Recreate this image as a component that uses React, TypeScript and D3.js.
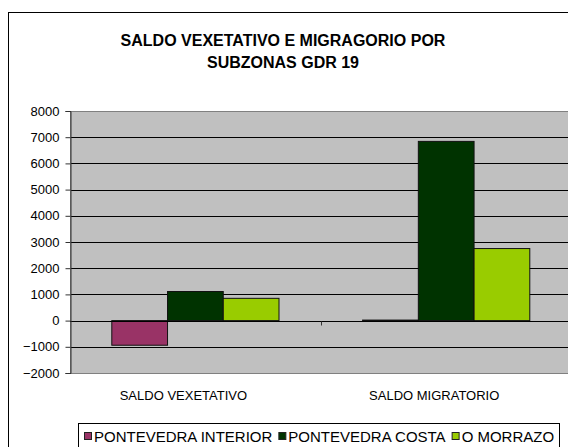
import React, { useEffect, useRef } from 'react';
import * as d3 from 'd3';

const categories = ['SALDO VEXETATIVO', 'SALDO MIGRATORIO'];
const seriesNames = ['PONTEVEDRA INTERIOR', 'PONTEVEDRA COSTA', 'O MORRAZO'];
const interior = [-940, 20];
const costa = [1110, 6840];
const morrazo = [850, 2750];
const yTicks = [-2000, -1000, 0, 1000, 2000, 3000, 4000, 5000, 6000, 7000, 8000];
const colors = ['#993366', '#003300', '#99CC00'];

const W = 568;
const H = 447;
const FONT = '"Liberation Sans", Arial, sans-serif';

export default function App() {
  const ref = useRef<SVGSVGElement>(null);

  useEffect(() => {
    const svg = d3.select(ref.current);
    svg.selectAll('*').remove();

    const series = [interior, costa, morrazo];
    const left = 70, right = 571.6, top = 111, bottom = 373;

    // outer chart border (cropped on the right/bottom)
    svg.append('rect').attr('x', 8.5).attr('y', 12.5).attr('width', 600).attr('height', 500)
      .attr('fill', 'white').attr('stroke', 'black');

    // title
    const title = svg.append('text').attr('text-anchor', 'middle').attr('font-family', FONT)
      .attr('font-weight', 'bold').attr('font-size', 16).attr('fill', 'black');
    title.append('tspan').attr('x', 283).attr('y', 46).text('SALDO VEXETATIVO E MIGRAGORIO POR');
    title.append('tspan').attr('x', 283).attr('y', 68).text('SUBZONAS GDR 19');

    const x0 = d3.scaleBand().domain(categories).range([left, right]).padding(0);
    const x1 = d3.scaleBand().domain(seriesNames).range([0, x0.bandwidth()]).paddingInner(0).paddingOuter(0.75);
    const y = d3.scaleLinear().domain([-2000, 8000]).range([bottom, top]);

    // plot area
    svg.append('rect').attr('x', left).attr('y', top).attr('width', right - left).attr('height', bottom - top)
      .attr('fill', '#C0C0C0');

    // gridlines
    svg.append('g').selectAll('line').data(yTicks.filter(t => t > -2000 && t < 8000)).join('line')
      .attr('x1', left).attr('x2', right)
      .attr('y1', d => Math.round(y(d)) + 0.5).attr('y2', d => Math.round(y(d)) + 0.5)
      .attr('stroke', 'black');
    svg.append('rect').attr('x', left + 0.5).attr('y', Math.round(top) + 0.5).attr('width', right - left)
      .attr('height', Math.round(bottom) - Math.round(top)).attr('fill', 'none').attr('stroke', '#808080');

    // bars
    const groups = svg.append('g').selectAll('g').data(categories).join('g')
      .attr('transform', d => `translate(${x0(d)},0)`);
    groups.selectAll('rect')
      .data((_, i) => seriesNames.map((s, j) => ({ s, j, v: series[j][i] })))
      .join('rect')
      .attr('x', d => (x1(d.s) as number))
      .attr('width', x1.bandwidth())
      .attr('y', d => y(Math.max(0, d.v)))
      .attr('height', d => Math.max(1, Math.abs(y(d.v) - y(0))))
      .attr('fill', d => colors[d.j])
      .attr('stroke', '#111')
      .attr('stroke-width', 1);

    // zero line + category ticks
    const y0 = Math.round(y(0)) + 0.5;
    svg.append('line').attr('x1', left).attr('x2', right).attr('y1', y0).attr('y2', y0).attr('stroke', 'black');
    svg.append('g').selectAll('line').data(categories.slice(1)).join('line')
      .attr('x1', d => Math.round(x0(d) as number) + 0.5).attr('x2', d => Math.round(x0(d) as number) + 0.5)
      .attr('y1', y0).attr('y2', y0 + 4).attr('stroke', '#333');

    // y axis
    const yAxis = svg.append('g').attr('transform', `translate(${left + 0.5},0)`)
      .call(d3.axisLeft(y).tickValues(yTicks).tickSize(5).tickPadding(6).tickFormat(d3.format('d')));
    yAxis.select('.domain').attr('stroke', '#333');
    yAxis.selectAll('.tick line').attr('stroke', '#333');
    yAxis.selectAll('text').attr('font-family', FONT).attr('font-size', 13).attr('fill', 'black');

    // category labels
    svg.append('g').selectAll('text').data(categories).join('text')
      .attr('x', d => (x0(d) as number) + x0.bandwidth() / 2 - 12)
      .attr('y', 400).attr('text-anchor', 'middle')
      .attr('font-family', FONT).attr('font-size', 13).attr('fill', 'black')
      .text(d => d);

    // legend
    const legend = svg.append('g');
    legend.append('rect').attr('x', 78.5).attr('y', 423.5).attr('width', 481).attr('height', 40)
      .attr('fill', 'white').attr('stroke', 'black');
    let cx = 84;
    seriesNames.forEach((s, j) => {
      legend.append('rect').attr('x', cx + 0.5).attr('y', 432.5).attr('width', 7).attr('height', 7)
        .attr('fill', colors[j]).attr('stroke', '#222');
      const t = legend.append('text').attr('x', cx + 10).attr('y', 441.5)
        .attr('font-family', FONT).attr('font-size', 15).attr('fill', 'black').text(s);
      const len = (t.node() as SVGTextElement).getComputedTextLength();
      cx += 10 + len + 6;
    });
  }, []);

  return (
    <div style={{ position: 'absolute', left: 0, top: 0 }}>
      <svg ref={ref} width={W} height={H} style={{ display: 'block', background: 'white' }} />
    </div>
  );
}
